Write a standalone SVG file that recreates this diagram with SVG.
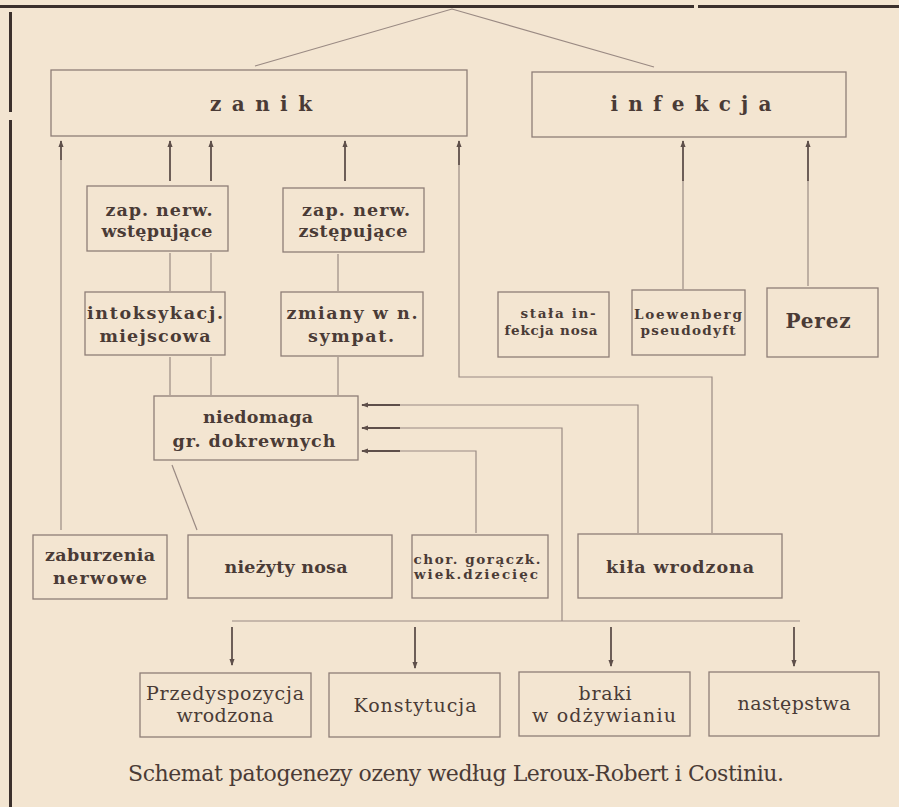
<svg xmlns="http://www.w3.org/2000/svg" width="899" height="807" viewBox="0 0 899 807">
<defs>
<style>
.bg{fill:#f3e5d1}
.box{fill:none;stroke:#8e7e77;stroke-width:1.3}
.ln{fill:none;stroke:#9a8a83;stroke-width:1.2}
.ar{fill:none;stroke:#5e4f4a;stroke-width:1.8}
.frame{fill:none;stroke:#3b302c;stroke-width:3}
text{font-family:"DejaVu Serif","Liberation Serif",serif;fill:#4a3b36;text-anchor:middle}
.b{font-weight:bold;font-size:17.5px}
.big{font-weight:bold;font-size:20px}
.s{font-weight:bold;font-size:13.5px}
.r{font-size:19px}
.cap{font-size:22px}
</style>
<marker id="ah" viewBox="0 0 8 8" refX="7" refY="4" markerWidth="7" markerHeight="7" markerUnits="userSpaceOnUse" orient="auto">
<path d="M0,1 L8,4 L0,7 z" fill="#5e4f4a"/>
</marker>
</defs>
<rect class="bg" x="0" y="0" width="899" height="807"/>
<g id="frame">
<line class="frame" x1="0" y1="6.5" x2="694" y2="6.5"/>
<line class="frame" x1="698" y1="6.5" x2="899" y2="6.5"/>
<line class="frame" x1="10.5" y1="12" x2="10.5" y2="112"/>
<line class="frame" x1="10.5" y1="120" x2="10.5" y2="807"/>
</g>
<g id="connectors">
<polyline class="ln" points="255,66 452,9 654,67"/>
<line class="ln" x1="61" y1="160" x2="61" y2="530"/>
<line class="ar" x1="61" y1="160" x2="61" y2="141" marker-end="url(#ah)"/>
<line class="ar" x1="170" y1="181" x2="170" y2="141" marker-end="url(#ah)"/>
<line class="ar" x1="211" y1="181" x2="211" y2="141" marker-end="url(#ah)"/>
<line class="ar" x1="345" y1="181" x2="345" y2="141" marker-end="url(#ah)"/>
<polyline class="ln" points="459,165 459,377 712,377 712,533"/>
<line class="ar" x1="459" y1="165" x2="459" y2="141" marker-end="url(#ah)"/>
<line class="ln" x1="683" y1="180" x2="683" y2="289"/>
<line class="ar" x1="683" y1="181" x2="683" y2="141" marker-end="url(#ah)"/>
<line class="ln" x1="808" y1="180" x2="808" y2="286"/>
<line class="ar" x1="808" y1="181" x2="808" y2="141" marker-end="url(#ah)"/>
<line class="ln" x1="170" y1="253" x2="170" y2="291"/>
<line class="ln" x1="211" y1="253" x2="211" y2="291"/>
<line class="ln" x1="338" y1="254" x2="338" y2="291"/>
<line class="ln" x1="170" y1="357" x2="170" y2="395"/>
<line class="ln" x1="211" y1="357" x2="211" y2="395"/>
<line class="ln" x1="338" y1="357" x2="338" y2="395"/>
<polyline class="ln" points="638,533 638,405 400,405"/>
<line class="ar" x1="400" y1="405" x2="362" y2="405" marker-end="url(#ah)"/>
<polyline class="ln" points="562,621 562,428 400,428"/>
<line class="ar" x1="400" y1="428" x2="362" y2="428" marker-end="url(#ah)"/>
<polyline class="ln" points="476,533 476,451 400,451"/>
<line class="ar" x1="400" y1="451" x2="362" y2="451" marker-end="url(#ah)"/>
<line class="ln" x1="172" y1="465" x2="197" y2="530"/>
<line class="ln" x1="232" y1="621" x2="800" y2="621"/>
<line class="ar" x1="232" y1="627" x2="232" y2="665" marker-end="url(#ah)"/>
<line class="ar" x1="415" y1="627" x2="415" y2="668" marker-end="url(#ah)"/>
<line class="ar" x1="611" y1="627" x2="611" y2="666" marker-end="url(#ah)"/>
<line class="ar" x1="794" y1="627" x2="794" y2="666" marker-end="url(#ah)"/>
</g>
<g id="zanik">
<rect class="box" x="51" y="70" width="416" height="66"/>
<text class="big" x="261" y="111" textLength="102">z a n i k</text>
</g>
<g id="infekcja">
<rect class="box" x="532" y="72" width="314" height="65"/>
<text class="big" x="691" y="111" textLength="161">i n f e k c j a</text>
</g>
<g id="wstepujace">
<rect class="box" x="87" y="186" width="141" height="65"/>
<text class="b" x="159" y="216" textLength="107">zap. nerw.</text>
<text class="b" x="157" y="237" textLength="111">wstępujące</text>
</g>
<g id="zstepujace">
<rect class="box" x="283" y="188" width="141" height="64"/>
<text class="b" x="356" y="216" textLength="108">zap. nerw.</text>
<text class="b" x="353" y="237" textLength="109">zstępujące</text>
</g>
<g id="intoksykacj">
<rect class="box" x="85" y="292" width="140" height="63"/>
<text class="b" x="155" y="319" textLength="136">intoksykacj.</text>
<text class="b" x="155" y="342" textLength="111">miejscowa</text>
</g>
<g id="zmiany">
<rect class="box" x="281" y="292" width="142" height="64"/>
<text class="b" x="352" y="319" textLength="131">zmiany w n.</text>
<text class="b" x="351" y="342" textLength="86">sympat.</text>
</g>
<g id="stala">
<rect class="box" x="498" y="292" width="111" height="65"/>
<text class="s" x="558" y="318" textLength="75">stała in-</text>
<text class="s" x="551" y="335" textLength="93">fekcja nosa</text>
</g>
<g id="loewenberg">
<rect class="box" x="632" y="290" width="113" height="65"/>
<text class="s" x="688" y="319" textLength="108">Loewenberg</text>
<text class="s" x="688" y="335" textLength="95">pseudodyft</text>
</g>
<g id="perez">
<rect class="box" x="767" y="288" width="111" height="69"/>
<text class="b" x="818" y="328" style="font-size:20px" textLength="65">Perez</text>
</g>
<g id="niedomaga">
<rect class="box" x="154" y="396" width="204" height="64"/>
<text class="b" x="258" y="423" textLength="110">niedomaga</text>
<text class="b" x="254" y="447" textLength="163">gr. dokrewnych</text>
</g>
<g id="zaburzenia">
<rect class="box" x="33" y="535" width="134" height="64"/>
<text class="b" x="100" y="561" textLength="110">zaburzenia</text>
<text class="b" x="100" y="584" textLength="94">nerwowe</text>
</g>
<g id="niezyty">
<rect class="box" x="188" y="535" width="204" height="63"/>
<text class="b" x="286" y="573" textLength="123">nieżyty nosa</text>
</g>
<g id="chor">
<rect class="box" x="412" y="535" width="136" height="63"/>
<text class="s" x="477" y="564" textLength="127">chor. gorączk.</text>
<text class="s" x="476" y="579" textLength="124">wiek.dziecięc</text>
</g>
<g id="kila">
<rect class="box" x="578" y="534" width="204" height="64"/>
<text class="b" x="680" y="573" textLength="148">kiła wrodzona</text>
</g>
<g id="przedyspozycja">
<rect class="box" x="140" y="673" width="171" height="64"/>
<text class="r" x="225" y="700" textLength="158">Przedyspozycja</text>
<text class="r" x="225" y="722" textLength="97">wrodzona</text>
</g>
<g id="konstytucja">
<rect class="box" x="329" y="673" width="171" height="64"/>
<text class="r" x="415" y="712" textLength="123">Konstytucja</text>
</g>
<g id="braki">
<rect class="box" x="519" y="672" width="171" height="64"/>
<text class="r" x="605" y="700" textLength="53">braki</text>
<text class="r" x="604" y="722" textLength="144">w odżywianiu</text>
</g>
<g id="nastepstwa">
<rect class="box" x="709" y="672" width="170" height="64"/>
<text class="r" x="794" y="710" textLength="113">następstwa</text>
</g>
<text class="cap" x="456" y="781" textLength="656">Schemat patogenezy ozeny według Leroux-Robert i Costiniu.</text>
</svg>
